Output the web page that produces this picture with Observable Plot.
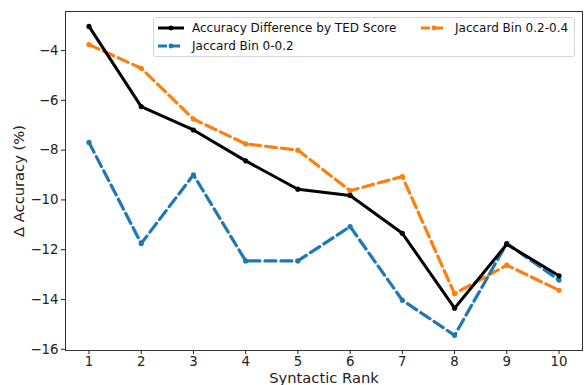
<!DOCTYPE html>
<html>
<head>
<meta charset="utf-8">
<script src="https://cdn.jsdelivr.net/npm/d3@7"></script>
<script src="https://cdn.jsdelivr.net/npm/@observablehq/plot@0.6"></script>
<style>
  html, body { margin: 0; padding: 0; background: #fff; }
  #wrap { position: relative; width: 584px; height: 385px; font-family: "DejaVu Sans", sans-serif; overflow: hidden; }
  .legend { position: absolute; left: 153px; top: 17px; width: 420px; height: 38px;
    border: 1px solid #d6d6d6; border-radius: 3px; background: rgba(255,255,255,0.85); }
  .entry { position: absolute; display: flex; align-items: center; font-size: 12px; color: #111; white-space: nowrap; }
  .entry svg { margin-right: 7px; }
</style>
</head>
<body>
<div id="wrap"></div>
<script>
const ranks = [1, 2, 3, 4, 5, 6, 7, 8, 9, 10];
const tedDiff = [-3.03, -6.25, -7.19, -8.43, -9.57, -9.82, -11.34, -14.35, -11.78, -13.05];
const jaccard0_02 = [-7.69, -11.75, -8.99, -12.45, -12.45, -11.07, -14.03, -15.44, -11.75, -13.22];
const jaccard02_04 = [-3.76, -4.71, -6.75, -7.75, -8.0, -9.63, -9.06, -13.77, -12.62, -13.63];
const seriesNames = ["Accuracy Difference by TED Score", "Jaccard Bin 0-0.2", "Jaccard Bin 0.2-0.4"];
const seriesColors = ["#000000", "#1f77b4", "#ff7f0e"];
const yTicks = [-16, -14, -12, -10, -8, -6, -4];

const toRows = (vals) => ranks.map((r, i) => ({ rank: r, value: vals[i] }));
const ted = toRows(tedDiff), jb1 = toRows(jaccard0_02), jb2 = toRows(jaccard02_04);

const chart = Plot.plot({
  width: 584,
  height: 385,
  marginLeft: 65,
  marginRight: 2,
  marginTop: 11,
  marginBottom: 35,
  style: { fontFamily: "DejaVu Sans, sans-serif", fontSize: "13.3px", color: "#222", background: "white" },
  x: { domain: [0.55, 10.45] },
  y: { domain: [-16.05, -2.43] },
  marks: [
    Plot.lineY(jb2, { x: "rank", y: "value", stroke: seriesColors[2], strokeWidth: 3.2, strokeDasharray: "11,5" }),
    Plot.dot(jb2, { x: "rank", y: "value", fill: seriesColors[2], r: 2.6 }),
    Plot.lineY(jb1, { x: "rank", y: "value", stroke: seriesColors[1], strokeWidth: 3.2, strokeDasharray: "11,5" }),
    Plot.dot(jb1, { x: "rank", y: "value", fill: seriesColors[1], r: 2.6 }),
    Plot.lineY(ted, { x: "rank", y: "value", stroke: seriesColors[0], strokeWidth: 3 }),
    Plot.dot(ted, { x: "rank", y: "value", fill: seriesColors[0], r: 2.6 }),
    Plot.frame({ stroke: "#333", strokeWidth: 1 }),
    Plot.axisX({ ticks: ranks, tickSize: 4, tickPadding: 2, fontSize: 13.3, label: "Syntactic Rank", labelAnchor: "center", labelArrow: "none", labelOffset: 32, tickFormat: d => String(d) }),
    Plot.axisY({ ticks: yTicks, tickSize: 4, tickPadding: 3, fontSize: 13.3, label: "Δ Accuracy (%)", labelAnchor: "center", labelArrow: "none", labelOffset: 52 })
  ]
});
const wrap = document.getElementById("wrap");
wrap.appendChild(chart);
chart.querySelectorAll("[aria-label='x-axis label'] text, [aria-label='y-axis label'] text").forEach(t => t.setAttribute("font-size", "14.7"));

const legend = document.createElement("div");
legend.className = "legend";
const entries = [
  { name: seriesNames[0], color: seriesColors[0], dash: null, left: 3, top: 1 },
  { name: seriesNames[1], color: seriesColors[1], dash: "9,4", left: 3, top: 19 },
  { name: seriesNames[2], color: seriesColors[2], dash: "9,4", left: 266, top: 1 }
];
entries.forEach(e => {
  const d = document.createElement("div");
  d.className = "entry";
  d.style.left = e.left + "px";
  d.style.top = e.top + "px";
  d.style.height = "18px";
  d.innerHTML = `<svg width="28" height="10"><line x1="1" y1="5" x2="27" y2="5" stroke="${e.color}" stroke-width="3" ${e.dash ? `stroke-dasharray="${e.dash}"` : ""}/><circle cx="14" cy="5" r="2.4" fill="${e.color}"/></svg><span>${e.name}</span>`;
  legend.appendChild(d);
});
wrap.appendChild(legend);
</script>
</body>
</html>
